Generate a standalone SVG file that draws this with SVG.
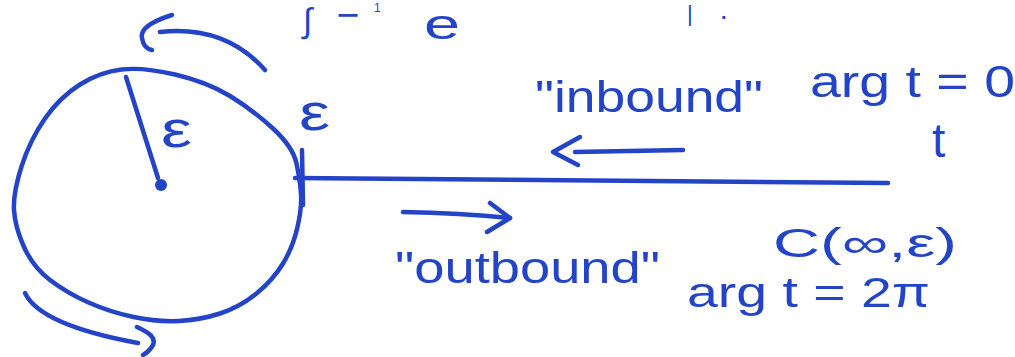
<svg xmlns="http://www.w3.org/2000/svg" width="1015" height="357" viewBox="0 0 1015 357">
<style>
.ink{fill:none;stroke:#2444c8;stroke-width:4.5;stroke-linecap:round;stroke-linejoin:round}
.t{fill:#2444c8;font-family:"Liberation Sans","DejaVu Sans",sans-serif}
</style>
<rect width="1015" height="357" fill="#ffffff"/>
<g id="top-fragments">
<text class="t" x="303" y="32" font-size="34">∫</text>
<text class="t" x="337" y="24" font-size="26" font-weight="bold" textLength="22" lengthAdjust="spacingAndGlyphs">−</text>
<text class="t" x="374" y="12" font-size="12">1</text>
<text class="t" x="424" y="39" font-size="42" textLength="36" lengthAdjust="spacingAndGlyphs">e</text>
<text class="t" x="687" y="21" font-size="22">|</text>
<text class="t" x="721" y="19" font-size="20" font-weight="bold">.</text>
</g>
<g id="circle">
<path class="ink" d="M296.5,163.5 Q293,147 273,128.5 Q253,110 230,96 Q207,82 175,74.5 Q143,67 121.5,69.5 Q100,72 80,84.5 Q60,97 45,118.5 Q30,140 21.5,166.5 Q13,193 14,210 Q15,227 24,247 Q33,267 50,280 Q67,293 88.5,302.5 Q110,312 133.5,317 Q157,322 178.5,321 Q200,320 220,313.5 Q240,307 256.5,293.5 Q273,280 283,263.5 Q293,247 297.5,227 Q302,207 301,193.5 Q300,180 296.5,163.5 Z"/>
<path class="ink" d="M126,77 L158,178"/>
<circle cx="161" cy="185" r="6" fill="#2444c8"/>
<text class="t" x="161" y="147" font-size="52" textLength="31" lengthAdjust="spacingAndGlyphs">ε</text>
<text class="t" x="299" y="130" font-size="52" textLength="31" lengthAdjust="spacingAndGlyphs">ε</text>
</g>
<g id="connectors">
<path class="ink" d="M302,150 L303,205"/>
<path class="ink" d="M295,178 L888,183"/>
<path class="ink" d="M265,70 Q225,25 160,32"/>
<path class="ink" d="M172,15 C150,22 140,30 142,38 C143,45 147,49 152,50"/>
<path class="ink" d="M25,293 Q40,325 138,343"/>
<path class="ink" d="M137,327 C150,333 156,338 153,345 C150,350 147,353 143,355"/>
<path class="ink" d="M683,150 L575,152"/>
<path class="ink" d="M580,137 L553,152 L578,165"/>
<path class="ink" d="M403,212 Q460,213 510,218"/>
<path class="ink" d="M490,203 L510,218 L487,232"/>
</g>
<g id="labels">
<text class="t" x="535" y="112" font-size="44" textLength="228" lengthAdjust="spacingAndGlyphs">"inbound"</text>
<text class="t" x="810" y="97" font-size="44" textLength="205" lengthAdjust="spacingAndGlyphs">arg t = 0</text>
<text class="t" x="932" y="157" font-size="48">t</text>
<text class="t" x="395" y="283" font-size="44" textLength="265" lengthAdjust="spacingAndGlyphs">"outbound"</text>
<text class="t" x="773" y="257" font-size="40" textLength="184" lengthAdjust="spacingAndGlyphs">C(∞,ε)</text>
<text class="t" x="687" y="307" font-size="42" textLength="243" lengthAdjust="spacingAndGlyphs">arg t = 2π</text>
</g>
</svg>
